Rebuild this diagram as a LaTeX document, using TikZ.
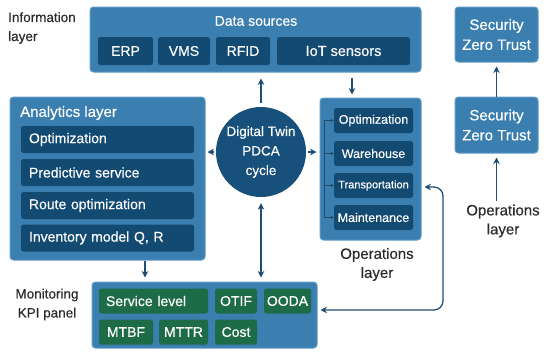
\documentclass[tikz,border=0pt]{standalone}
\usepackage{fontspec}
\setmainfont{Liberation Sans}[FakeBold=0.35]
\usetikzlibrary{arrows.meta}
\definecolor{outerblue}{HTML}{3B7EB0}
\definecolor{outerline}{HTML}{5E9CC8}
\definecolor{navy}{HTML}{134A72}
\definecolor{circblue}{HTML}{17507A}
\definecolor{kpigreen}{HTML}{1E6B47}
\definecolor{arrowcol}{HTML}{1F4D72}
\definecolor{labelcol}{HTML}{2B2B2B}
\tikzset{
  outer/.style={fill=outerblue, draw=outerline, line width=1pt, rounded corners=3.5pt, inner sep=0pt},
  innerbox/.style={fill=navy, rounded corners=2.5pt, text=white, inner sep=0pt, font=\fontsize{14}{16}\selectfont},
  kpibox/.style={fill=kpigreen, rounded corners=2.5pt, text=white, inner sep=0pt, font=\fontsize{14}{16}\selectfont},
  whitetxt/.style={text=white, inner sep=0pt},
  darktxt/.style={text=labelcol, inner sep=0pt, align=center},
  arr/.style={draw=arrowcol, line width=1.3pt, -{Stealth[length=6.5pt,width=6.5pt]}},
  dblarr/.style={draw=arrowcol, line width=1.3pt, {Stealth[length=6.5pt,width=6.5pt]}-{Stealth[length=6.5pt,width=6.5pt]}},
  busarr/.style={draw=arrowcol, line width=0.8pt, -{Stealth[length=3.5pt,width=3.5pt]}},
}
\begin{document}
\begin{tikzpicture}[x=1pt,y=-1pt]
\useasboundingbox (0,0) rectangle (549,351);

% Information layer
\node[darktxt, align=left, anchor=west, font=\fontsize{13.5}{19}\selectfont] (infolbl) at (8,28) {Information\\layer};

% Data sources
\node[outer, minimum width=331, minimum height=65] (ds) at (255.5,39.5) {};
\node[whitetxt, font=\fontsize{14}{16}\selectfont] (dstitle) at (256,21) {Data sources};
\node[innerbox, minimum width=55, minimum height=28] (erp) at (125.5,51) {ERP};
\node[innerbox, minimum width=52, minimum height=28] (vms) at (184,51) {VMS};
\node[innerbox, minimum width=54, minimum height=28] (rfid) at (243,51) {RFID};
\node[innerbox, minimum width=133, minimum height=28, font=\fontsize{14.5}{16}\selectfont] (iot) at (343.5,51) {IoT sensors};

% Security
\node[outer, minimum width=83, minimum height=55, align=center, text=white, font=\fontsize{15}{20}\selectfont] (sec1) at (496.5,34.5) {Security\\Zero Trust};
\node[outer, minimum width=83, minimum height=56, align=center, text=white, font=\fontsize{15}{20}\selectfont] (sec2) at (496.5,125) {Security\\Zero Trust};
\node[darktxt, font=\fontsize{15}{19}\selectfont] (opslbl2) at (503,221) {Operations\\layer};
\draw[arr, shorten >=4pt] (sec2.north) -- (sec1.south);
\draw[arr, shorten >=4pt, shorten <=3pt] (opslbl2.north -| sec2.south) -- (sec2.south);

% Analytics
\node[outer, minimum width=195, minimum height=163] (ana) at (107.5,178.5) {};
\node[whitetxt, anchor=west, font=\fontsize{15}{17}\selectfont] (anatitle) at (20,113) {Analytics layer};
\node[innerbox, minimum width=173, minimum height=27, text width=157, align=left] (a1) at (107.5,139.5) {Optimization};
\node[innerbox, minimum width=173, minimum height=27, text width=157, align=left] (a2) at (107.5,172.5) {Predictive service};
\node[innerbox, minimum width=173, minimum height=27, text width=157, align=left] (a3) at (107.5,205.5) {Route optimization};
\node[innerbox, minimum width=173, minimum height=27, text width=157, align=left] (a4) at (107.5,238) {Inventory model Q, R};

% Circle
\node[circle, fill=circblue, minimum size=90, inner sep=0pt, text=white, align=center, font=\fontsize{13.5}{19.5}\selectfont] (dt) at (261,152) {Digital Twin\\PDCA\\cycle};

% Operations
\node[outer, minimum width=101, minimum height=142] (ops) at (370.5,169) {};
\node[innerbox, minimum width=79, minimum height=25, font=\fontsize{12.5}{14}\selectfont] (o1) at (373.5,120.5) {Optimization};
\node[innerbox, minimum width=79, minimum height=25, font=\fontsize{12.5}{14}\selectfont] (o2) at (373.5,153.5) {Warehouse};
\node[innerbox, minimum width=79, minimum height=25, font=\fontsize{11}{14}\selectfont] (o3) at (373.5,185.5) {Transportation};
\node[innerbox, minimum width=79, minimum height=25, font=\fontsize{12.5}{14}\selectfont] (o4) at (373.5,217.5) {Maintenance};
\node[darktxt, font=\fontsize{15}{19}\selectfont] (opslbl) at (377,264.5) {Operations\\layer};
\coordinate (bustop) at (324,120.5);
\coordinate (busbot) at (324,217.5);
\draw[draw=arrowcol, line width=0.8pt] (bustop) -- (busbot);
\draw[busarr] (bustop) -- (o1.west);
\draw[busarr] (bustop |- o2.west) -- (o2.west);
\draw[busarr] (bustop |- o3.west) -- (o3.west);
\draw[busarr] (busbot) -- (o4.west);

% KPI panel
\node[darktxt, font=\fontsize{13.5}{19}\selectfont] (kpilbl) at (47,304.5) {Monitoring\\KPI panel};
\node[outer, minimum width=225, minimum height=66] (kpi) at (204.5,315) {};
\node[kpibox, minimum width=109, minimum height=25, text width=95, align=left] (k1) at (153.5,301) {Service level};
\node[kpibox, minimum width=42, minimum height=25] (k2) at (236,301) {OTIF};
\node[kpibox, minimum width=47, minimum height=25] (k3) at (287.5,301) {OODA};
\node[kpibox, minimum width=54, minimum height=25] (k4) at (126,332) {MTBF};
\node[kpibox, minimum width=49, minimum height=25] (k5) at (183.5,332) {MTTR};
\node[kpibox, minimum width=42, minimum height=25] (k6) at (236,332) {Cost};

% Connectors
\draw[arr, shorten >=6pt, shorten <=4pt] (dt.north) -- (dt.north |- ds.south);
\draw[arr, shorten >=2pt, shorten <=2pt] (dt.west) -- (dt.west -| ana.east);
\draw[arr, shorten >=3pt, shorten <=2pt] (dt.east) -- (dt.east -| ops.west);
\draw[arr, shorten >=3pt, shorten <=5pt] (ds.south -| 352,0) -- (ops.north -| 352,0);
\draw[arr, shorten >=4pt, shorten <=0pt] (ana.south -| 145,0) -- (kpi.north -| 145,0);
\draw[dblarr, shorten >=4pt, shorten <=6pt] (dt.south) -- (dt.south |- kpi.north);
\coordinate (bendbot) at (443,310);
\coordinate (bendtop) at (443,187);
\draw[dblarr, rounded corners=9pt, shorten >=3pt, shorten <=3pt] (kpi.east |- bendbot) -- (bendbot) -- (bendtop) -- (ops.east |- bendtop);
\end{tikzpicture}
\end{document}
